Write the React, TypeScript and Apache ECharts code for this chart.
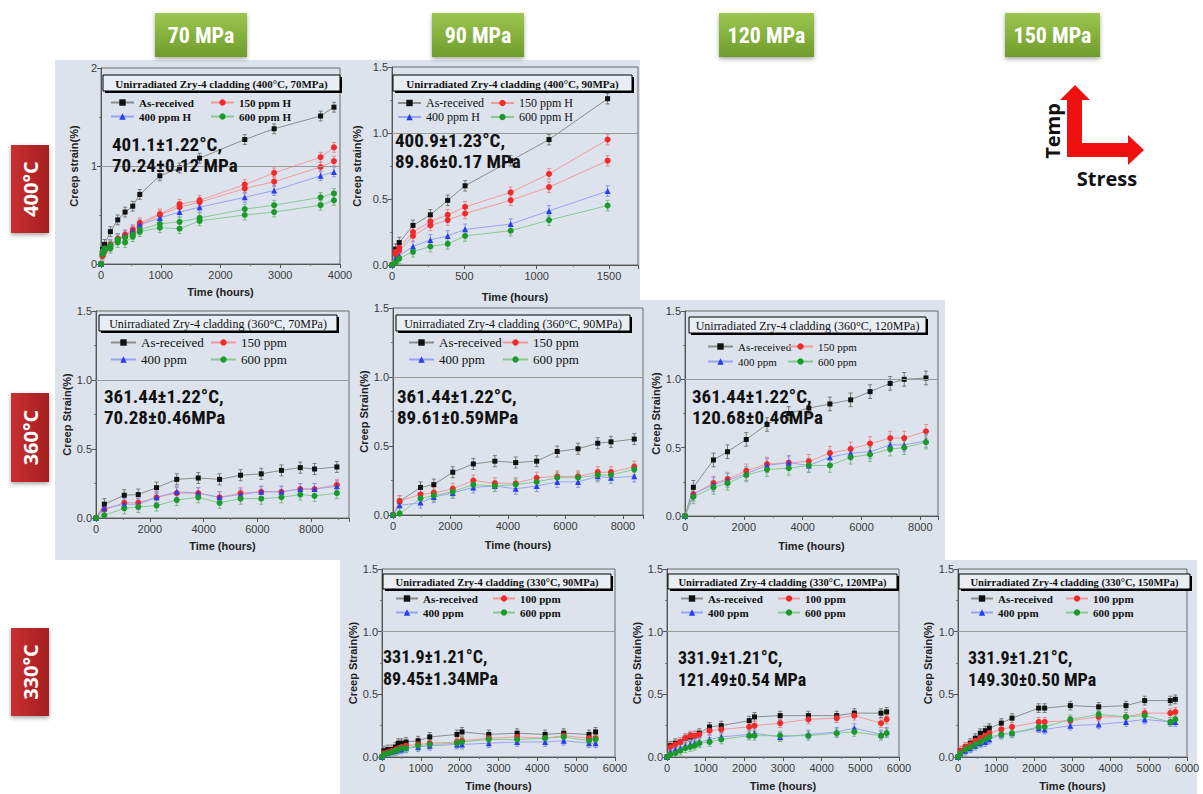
import { useEffect, useRef } from 'react';
import * as echarts from 'echarts';

// ---------------- data ----------------
const stressHeaders = ['70 MPa', '90 MPa', '120 MPa', '150 MPa'];
const tempLabels = ['400°C', '360°C', '330°C'];

const namesH = ['As-received', '150 ppm H', '400 ppm H', '600 ppm H'];
const names360 = ['As-received', '150 ppm', '400 ppm', '600 ppm'];
const names330 = ['As-received', '100 ppm', '400 ppm', '600 ppm'];

// approximate half-height of the error bars (% strain)
const errorHalfWidth = [0.05, 0.04, 0.04, 0.04, 0.05, 0.035, 0.035, 0.035];

// 400°C, 70 MPa
const p1Time = [0, 25, 60, 157, 280, 403, 531, 649, 985, 1315, 1650, 2406, 2898, 3675, 3899];
const p1AsReceived = [0, 0.15, 0.2, 0.33, 0.45, 0.53, 0.59, 0.71, 0.9, 0.98, 1.08, 1.27, 1.38, 1.51, 1.6];
const p1H150a = [0, 0.1, 0.15, 0.2, 0.26, 0.3, 0.35, 0.42, 0.51, 0.61, 0.65, 0.81, 0.93, 1.09, 1.19];
const p1H150b = [0, 0.08, 0.13, 0.18, 0.25, 0.28, 0.33, 0.4, 0.5, 0.58, 0.63, 0.77, 0.84, 0.99, 1.05];
const p1H400 = [0, 0.12, 0.16, 0.2, 0.26, 0.29, 0.34, 0.4, 0.47, 0.53, 0.58, 0.68, 0.75, 0.9, 0.94];
const p1H600a = [0, 0.13, 0.16, 0.19, 0.25, 0.27, 0.3, 0.35, 0.41, 0.43, 0.47, 0.56, 0.6, 0.68, 0.72];
const p1H600b = [0, 0.1, 0.14, 0.16, 0.22, 0.22, 0.28, 0.33, 0.37, 0.36, 0.44, 0.5, 0.53, 0.6, 0.65];

// 400°C, 90 MPa
const p2Time = [0, 25, 50, 145, 265, 385, 505, 820, 1085, 1490];
const p2AsReceived = [0, 0.12, 0.17, 0.3, 0.38, 0.49, 0.6, 0.79, 0.95, 1.26];
const p2H150a = [0, 0.1, 0.13, 0.25, 0.33, 0.38, 0.44, 0.55, 0.69, 0.95];
const p2H150b = [0, 0.08, 0.11, 0.22, 0.3, 0.34, 0.39, 0.49, 0.59, 0.79];
const p2H400 = [0, 0.05, 0.07, 0.14, 0.19, 0.22, 0.27, 0.31, 0.41, 0.56];
const p2H600 = [0, 0.02, 0.05, 0.1, 0.14, 0.16, 0.22, 0.26, 0.34, 0.45];

// 360°C, 70 MPa
const p3Time = [0, 310, 1050, 1570, 2250, 3000, 3800, 4590, 5370, 6140, 6890, 7590, 8120, 8950];
const p3AsReceived = [0, 0.1, 0.165, 0.17, 0.22, 0.28, 0.29, 0.28, 0.31, 0.32, 0.345, 0.365, 0.355, 0.37];
const p3H150 = [0, 0.06, 0.11, 0.11, 0.15, 0.18, 0.18, 0.15, 0.18, 0.19, 0.19, 0.21, 0.21, 0.24];
const p3H400 = [0, 0.07, 0.1, 0.1, 0.15, 0.19, 0.18, 0.15, 0.17, 0.19, 0.19, 0.21, 0.21, 0.23];
const p3H600 = [0, 0.02, 0.07, 0.08, 0.09, 0.13, 0.15, 0.11, 0.14, 0.14, 0.15, 0.17, 0.16, 0.18];

// 360°C, 90 MPa
const p4Time = [0, 230, 958, 1420, 2080, 2795, 3545, 4270, 5000, 5715, 6440, 7125, 7586, 8395];
const p4AsReceived = [0, 0.1, 0.2, 0.22, 0.31, 0.37, 0.39, 0.38, 0.39, 0.46, 0.48, 0.52, 0.53, 0.55];
const p4H150 = [0, 0.1, 0.15, 0.16, 0.19, 0.25, 0.23, 0.23, 0.27, 0.28, 0.28, 0.31, 0.31, 0.35];
const p4H400 = [0, 0.07, 0.09, 0.13, 0.16, 0.2, 0.21, 0.19, 0.21, 0.24, 0.24, 0.28, 0.27, 0.28];
const p4H600 = [0, 0.01, 0.12, 0.14, 0.17, 0.22, 0.21, 0.22, 0.24, 0.27, 0.27, 0.29, 0.29, 0.33];

// 360°C, 120 MPa
const p5Time = [0, 284, 967, 1445, 2082, 2787, 3527, 4209, 4926, 5631, 6291, 6974, 7452, 8191];
const p5AsReceived = [0, 0.21, 0.41, 0.47, 0.56, 0.67, 0.75, 0.79, 0.82, 0.85, 0.91, 0.97, 1.0, 1.01];
const p5H150 = [0, 0.16, 0.24, 0.27, 0.33, 0.38, 0.39, 0.4, 0.46, 0.49, 0.53, 0.57, 0.57, 0.62];
const p5H400 = [0, 0.16, 0.23, 0.26, 0.31, 0.37, 0.39, 0.37, 0.43, 0.46, 0.47, 0.52, 0.52, 0.55];
const p5H600 = [0, 0.14, 0.21, 0.24, 0.3, 0.34, 0.35, 0.37, 0.37, 0.43, 0.45, 0.49, 0.5, 0.54];

// 330°C, 90 MPa
const p6Time = [0, 50, 150, 250, 350, 420, 500, 620, 930, 1230, 1930, 2060, 2750, 3480, 4200, 4680, 5330, 5500];
const p6AsReceived = [0, 0.05, 0.06, 0.06, 0.08, 0.11, 0.11, 0.12, 0.13, 0.16, 0.18, 0.2, 0.18, 0.19, 0.18, 0.19, 0.18, 0.2];
const p6H100 = [0, 0.03, 0.04, 0.05, 0.06, 0.07, 0.08, 0.09, 0.1, 0.11, 0.12, 0.13, 0.15, 0.16, 0.15, 0.17, 0.15, 0.15];
const p6H400 = [0, 0.02, 0.03, 0.04, 0.05, 0.06, 0.06, 0.07, 0.08, 0.09, 0.1, 0.1, 0.11, 0.12, 0.12, 0.13, 0.11, 0.11];
const p6H600 = [0, 0.02, 0.03, 0.04, 0.05, 0.06, 0.07, 0.07, 0.09, 0.1, 0.11, 0.12, 0.14, 0.14, 0.15, 0.16, 0.13, 0.14];

// 330°C, 120 MPa
const p7Time = [0, 86, 215, 344, 473, 602, 714, 835, 1100, 1403, 2126, 2263, 2926, 3657, 4389, 4845, 5534, 5680];
const p7AsReceived = [0, 0.09, 0.11, 0.12, 0.15, 0.16, 0.17, 0.19, 0.24, 0.25, 0.29, 0.32, 0.33, 0.33, 0.33, 0.35, 0.35, 0.36];
const p7H100 = [0, 0.08, 0.1, 0.12, 0.15, 0.17, 0.17, 0.18, 0.21, 0.22, 0.24, 0.25, 0.27, 0.3, 0.31, 0.33, 0.27, 0.3];
const p7H400 = [0, 0.04, 0.06, 0.07, 0.09, 0.1, 0.11, 0.12, 0.14, 0.16, 0.18, 0.19, 0.16, 0.18, 0.2, 0.23, 0.18, 0.2];
const p7H600 = [0, 0.02, 0.03, 0.05, 0.07, 0.08, 0.09, 0.11, 0.12, 0.14, 0.17, 0.17, 0.17, 0.17, 0.19, 0.2, 0.17, 0.19];

// 330°C, 150 MPa
const p8Time = [0, 61, 192, 323, 454, 585, 716, 820, 1135, 1415, 2113, 2270, 2943, 3686, 4402, 4891, 5563, 5694];
const p8AsReceived = [0, 0.05, 0.08, 0.11, 0.15, 0.19, 0.21, 0.23, 0.27, 0.31, 0.39, 0.39, 0.41, 0.4, 0.41, 0.45, 0.45, 0.46];
const p8H100 = [0, 0.05, 0.08, 0.1, 0.13, 0.15, 0.17, 0.19, 0.22, 0.24, 0.28, 0.28, 0.29, 0.32, 0.32, 0.35, 0.35, 0.36];
const p8H400 = [0, 0.03, 0.05, 0.07, 0.09, 0.11, 0.12, 0.14, 0.18, 0.19, 0.23, 0.22, 0.25, 0.26, 0.28, 0.3, 0.28, 0.28];
const p8H600 = [0, 0.03, 0.06, 0.08, 0.1, 0.12, 0.14, 0.16, 0.18, 0.19, 0.24, 0.24, 0.3, 0.34, 0.32, 0.33, 0.28, 0.3];

// ---------------- styling / layout ----------------
const BG = '#dce3ed';
const KIND = [
  { color: '#111111', line: '#8c8c8c', err: '#7a7a7a', symbol: 'rect', size: 5 },
  { color: '#f22a2a', line: '#f29a9a', err: '#e88a8a', symbol: 'circle', size: 6 },
  { color: '#2a3cf0', line: '#9aa2f2', err: '#8a94ea', symbol: 'triangle', size: 6 },
  { color: '#1a9a2a', line: '#88c892', err: '#7abb84', symbol: 'circle', size: 6 },
];

type S = { name: string; kind: number; values: number[] };
type Panel = {
  grid: number[]; xMax: number; xInt: number; xNameGap: number;
  yMax: number; yInt: number; yDec: number; yName: string; yNameGap: number;
  title: string; titleBox: number[]; titleBold: boolean; titleSize: number;
  legendX: number[]; legendTop: number; legendSize: number; legendBold: boolean; legendGap: number; iconW: number;
  names: string[];
  note: string; noteX: number; noteTop: number; noteLH: number; noteSize: number;
  times: number[]; series: S[];
};

const panels: Panel[] = [
  {
    grid: [101, 68, 340, 264], xMax: 4000, xInt: 1000, xNameGap: 22, yMax: 2, yInt: 1, yDec: 0,
    yName: 'Creep strain(%)', yNameGap: 22,
    title: 'Unirradiated Zry-4 cladding (400°C, 70MPa)', titleBox: [103, 75, 340, 91], titleBold: true, titleSize: 11,
    legendX: [110, 210], legendTop: 97, legendSize: 11, legendBold: true, legendGap: 3, iconW: 23, names: namesH,
    note: '401.1±1.22°C,\n70.24±0.12 MPa', noteX: 112, noteTop: 134, noteLH: 21, noteSize: 19,
    times: p1Time,
    series: [
      { name: namesH[0], kind: 0, values: p1AsReceived },
      { name: namesH[1], kind: 1, values: p1H150a },
      { name: namesH[1], kind: 1, values: p1H150b },
      { name: namesH[2], kind: 2, values: p1H400 },
      { name: namesH[3], kind: 3, values: p1H600a },
      { name: namesH[3], kind: 3, values: p1H600b },
    ],
  },
  {
    grid: [392, 67, 638, 265], xMax: 1700, xInt: 500, xNameGap: 26, yMax: 1.5, yInt: 0.5, yDec: 1,
    yName: 'Creep strain(%)', yNameGap: 30,
    title: 'Unirradiated Zry-4 cladding (400°C, 90MPa)', titleBox: [393, 75, 632, 91], titleBold: true, titleSize: 11,
    legendX: [397, 490], legendTop: 97, legendSize: 12, legendBold: false, legendGap: 2, iconW: 23, names: namesH,
    note: '400.9±1.23°C,\n89.86±0.17 MPa', noteX: 395, noteTop: 130, noteLH: 21, noteSize: 19,
    times: p2Time,
    series: [
      { name: namesH[0], kind: 0, values: p2AsReceived },
      { name: namesH[1], kind: 1, values: p2H150a },
      { name: namesH[1], kind: 1, values: p2H150b },
      { name: namesH[2], kind: 2, values: p2H400 },
      { name: namesH[3], kind: 3, values: p2H600 },
    ],
  },
  {
    grid: [96, 311, 349, 518], xMax: 9400, xInt: 2000, xNameGap: 22, yMax: 1.5, yInt: 0.5, yDec: 1,
    yName: 'Creep Strain(%)', yNameGap: 22,
    title: 'Unirradiated Zry-4 cladding (360°C, 70MPa)', titleBox: [99, 315, 337, 331], titleBold: false, titleSize: 12,
    legendX: [110, 210], legendTop: 336, legendSize: 13, legendBold: false, legendGap: 4, iconW: 25, names: names360,
    note: '361.44±1.22°C,\n70.28±0.46MPa', noteX: 104, noteTop: 386, noteLH: 21, noteSize: 19,
    times: p3Time,
    series: [
      { name: names360[0], kind: 0, values: p3AsReceived },
      { name: names360[1], kind: 1, values: p3H150 },
      { name: names360[2], kind: 2, values: p3H400 },
      { name: names360[3], kind: 3, values: p3H600 },
    ],
  },
  {
    grid: [393, 308, 643, 515], xMax: 8700, xInt: 2000, xNameGap: 24, yMax: 1.5, yInt: 0.5, yDec: 1,
    yName: 'Creep Strain(%)', yNameGap: 24,
    title: 'Unirradiated Zry-4 cladding (360°C, 90MPa)', titleBox: [396, 315, 630, 331], titleBold: false, titleSize: 12,
    legendX: [408, 502], legendTop: 336, legendSize: 13, legendBold: false, legendGap: 4, iconW: 25, names: names360,
    note: '361.44±1.22°C,\n89.61±0.59MPa', noteX: 397, noteTop: 386, noteLH: 21, noteSize: 19,
    times: p4Time,
    series: [
      { name: names360[0], kind: 0, values: p4AsReceived },
      { name: names360[1], kind: 1, values: p4H150 },
      { name: names360[2], kind: 2, values: p4H400 },
      { name: names360[3], kind: 3, values: p4H600 },
    ],
  },
  {
    grid: [685, 311, 938, 516], xMax: 8600, xInt: 2000, xNameGap: 24, yMax: 1.5, yInt: 0.5, yDec: 1,
    yName: 'Creep Strain(%)', yNameGap: 24,
    title: 'Unirradiated Zry-4 cladding (360°C, 120MPa)', titleBox: [689, 317, 926, 333], titleBold: false, titleSize: 12,
    legendX: [707, 787], legendTop: 341, legendSize: 11, legendBold: false, legendGap: 4, iconW: 25, names: names360,
    note: '361.44±1.22°C,\n120.68±0.46MPa', noteX: 692, noteTop: 386, noteLH: 21, noteSize: 19,
    times: p5Time,
    series: [
      { name: names360[0], kind: 0, values: p5AsReceived },
      { name: names360[1], kind: 1, values: p5H150 },
      { name: names360[2], kind: 2, values: p5H400 },
      { name: names360[3], kind: 3, values: p5H600 },
    ],
  },
  {
    grid: [382, 569, 615, 757], xMax: 6000, xInt: 1000, xNameGap: 23, yMax: 1.5, yInt: 0.5, yDec: 1,
    yName: 'Creep Strain(%)', yNameGap: 24,
    title: 'Unirradiated Zry-4 cladding (330°C, 90MPa)', titleBox: [383, 574, 611, 589], titleBold: true, titleSize: 10.5,
    legendX: [395, 492], legendTop: 593, legendSize: 11, legendBold: true, legendGap: 3, iconW: 22, names: names330,
    note: '331.9±1.21°C,\n89.45±1.34MPa', noteX: 383, noteTop: 645, noteLH: 22, noteSize: 18,
    times: p6Time,
    series: [
      { name: names330[0], kind: 0, values: p6AsReceived },
      { name: names330[1], kind: 1, values: p6H100 },
      { name: names330[2], kind: 2, values: p6H400 },
      { name: names330[3], kind: 3, values: p6H600 },
    ],
  },
  {
    grid: [667, 569, 899, 757], xMax: 6000, xInt: 1000, xNameGap: 23, yMax: 1.5, yInt: 0.5, yDec: 1,
    yName: 'Creep Strain(%)', yNameGap: 25,
    title: 'Unirradiated Zry-4 cladding (330°C, 120MPa)', titleBox: [668, 574, 897, 589], titleBold: true, titleSize: 10.5,
    legendX: [680, 777], legendTop: 593, legendSize: 11, legendBold: true, legendGap: 3, iconW: 22, names: names330,
    note: '331.9±1.21°C,\n121.49±0.54 MPa', noteX: 678, noteTop: 646, noteLH: 22, noteSize: 18,
    times: p7Time,
    series: [
      { name: names330[0], kind: 0, values: p7AsReceived },
      { name: names330[1], kind: 1, values: p7H100 },
      { name: names330[2], kind: 2, values: p7H400 },
      { name: names330[3], kind: 3, values: p7H600 },
    ],
  },
  {
    grid: [958, 569, 1187, 757], xMax: 6000, xInt: 1000, xNameGap: 23, yMax: 1.5, yInt: 0.5, yDec: 1,
    yName: 'Creep Strain(%)', yNameGap: 25,
    title: 'Unirradiated Zry-4 cladding (330°C, 150MPa)', titleBox: [959, 574, 1190, 589], titleBold: true, titleSize: 10.5,
    legendX: [970, 1065], legendTop: 593, legendSize: 11, legendBold: true, legendGap: 3, iconW: 22, names: names330,
    note: '331.9±1.21°C,\n149.30±0.50 MPa', noteX: 968, noteTop: 646, noteLH: 22, noteSize: 18,
    times: p8Time,
    series: [
      { name: names330[0], kind: 0, values: p8AsReceived },
      { name: names330[1], kind: 1, values: p8H100 },
      { name: names330[2], kind: 2, values: p8H400 },
      { name: names330[3], kind: 3, values: p8H600 },
    ],
  },
];

const headerBoxes = [
  [155, 13, 92, 44],
  [432, 13, 92, 44],
  [719, 13, 95, 44],
  [1005, 13, 95, 44],
];
const tempBoxes = [
  [11, 145, 38, 88],
  [11, 393, 38, 89],
  [11, 628, 38, 88],
];

const SANS = "'Liberation Sans', Arial, sans-serif";
const SERIF = "'Liberation Serif', 'Times New Roman', serif";
const NOTE_FONT = "'Liberation Sans Narrow', 'Roboto Condensed', 'Noto Sans', sans-serif";
const LABEL_FONT = "'Open Sans', 'Noto Sans', sans-serif";

function buildOption() {
  const grid: any[] = [];
  const xAxis: any[] = [];
  const yAxis: any[] = [];
  const series: any[] = [];
  const legend: any[] = [];
  const elements: any[] = [];

  // background panels
  elements.push({ type: 'rect', z: -10, shape: { x: 55, y: 60, width: 585, height: 245 }, style: { fill: BG } });
  elements.push({ type: 'rect', z: -10, shape: { x: 55, y: 300, width: 890, height: 260 }, style: { fill: BG } });
  elements.push({ type: 'rect', z: -10, shape: { x: 340, y: 560, width: 857, height: 234 }, style: { fill: BG } });

  panels.forEach((p, i) => {
    const [l, t, r, b] = p.grid;
    grid.push({ left: l, top: t, width: r - l, height: b - t, show: true, borderColor: '#6a6a6a', borderWidth: 1, backgroundColor: 'rgba(0,0,0,0)' });
    xAxis.push({
      gridIndex: i, type: 'value', min: 0, max: p.xMax, interval: p.xInt,
      axisLine: { show: true, onZero: false, lineStyle: { color: '#555' } },
      axisTick: { show: true, length: 4, lineStyle: { color: '#555' } },
      minorTick: { show: true, splitNumber: 2, length: 2, lineStyle: { color: '#777' } },
      splitLine: { show: false },
      axisLabel: { fontSize: 11, color: '#3a3a3a', fontFamily: SANS, margin: 5, formatter: (v: number) => (v % p.xInt === 0 ? String(v) : '') },
      name: 'Time (hours)', nameLocation: 'middle', nameGap: p.xNameGap,
      nameTextStyle: { fontWeight: 'bold', fontSize: 11, color: '#222', fontFamily: SANS },
    });
    yAxis.push({
      gridIndex: i, type: 'value', min: 0, max: p.yMax, interval: p.yInt,
      axisLine: { show: true, onZero: false, lineStyle: { color: '#555' } },
      axisTick: { show: true, length: 4, lineStyle: { color: '#555' } },
      minorTick: { show: true, splitNumber: 2, length: 2, lineStyle: { color: '#777' } },
      splitLine: { show: false },
      axisLabel: { fontSize: 11, color: '#3a3a3a', fontFamily: SANS, margin: 4, formatter: (v: number) => v.toFixed(p.yDec) },
      name: p.yName, nameLocation: 'middle', nameRotate: 90, nameGap: p.yNameGap,
      nameTextStyle: { fontWeight: 'bold', fontSize: 11, color: '#222', fontFamily: SANS },
    });
    const e = errorHalfWidth[i];
    p.series.forEach((s, j) => {
      const k = KIND[s.kind];
      // error bars
      series.push({
        type: 'custom', xAxisIndex: i, yAxisIndex: i, silent: true, clip: true, z: 2,
        data: p.times.map((tt, n) => [tt, s.values[n] - e, s.values[n] + e]),
        encode: { x: 0, y: [1, 2] },
        renderItem: (_params: any, api: any) => {
          const x = api.value(0);
          if (x === 0) return null;
          const lo = api.coord([x, api.value(1)]);
          const hi = api.coord([x, api.value(2)]);
          const st = { stroke: k.err, lineWidth: 1 };
          return {
            type: 'group',
            children: [
              { type: 'line', shape: { x1: lo[0], y1: lo[1], x2: hi[0], y2: hi[1] }, style: st },
              { type: 'line', shape: { x1: lo[0] - 2, y1: lo[1], x2: lo[0] + 2, y2: lo[1] }, style: st },
              { type: 'line', shape: { x1: hi[0] - 2, y1: hi[1], x2: hi[0] + 2, y2: hi[1] }, style: st },
            ],
          };
        },
      });
      series.push({
        type: 'line', name: s.name, xAxisIndex: i, yAxisIndex: i,
        data: p.times.map((tt, n) => [tt, s.values[n]]),
        symbol: k.symbol, symbolSize: k.size, showSymbol: true,
        itemStyle: { color: k.color },
        lineStyle: { color: k.line, width: 1 },
        z: 3,
        markLine: j === 0 ? {
          silent: true, symbol: 'none', label: { show: false },
          lineStyle: { color: '#9a9a9a', width: 1, type: 'solid' },
          data: [{ yAxis: 1 }],
        } : undefined,
      });
    });
    const textStyle = { fontFamily: SERIF, fontSize: p.legendSize, fontWeight: p.legendBold ? 'bold' : 'normal', color: '#111' };
    [[p.names[0], p.names[2]], [p.names[1], p.names[3]]].forEach((col, c) => {
      legend.push({
        orient: 'vertical', left: p.legendX[c], top: p.legendTop, padding: 0,
        itemWidth: p.iconW, itemHeight: 8, itemGap: p.legendGap,
        selectedMode: false, data: col, textStyle,
      });
    });
    // title box
    const [x1, y1, x2, y2] = p.titleBox;
    elements.push({ type: 'rect', z: 20, shape: { x: x1 + 2, y: y1 + 2, width: x2 - x1, height: y2 - y1 }, style: { fill: '#000' } });
    elements.push({ type: 'rect', z: 21, shape: { x: x1, y: y1, width: x2 - x1, height: y2 - y1 }, style: { fill: '#e9eef4', stroke: '#000', lineWidth: 1 } });
    elements.push({
      type: 'text', z: 22, x: (x1 + x2) / 2, y: (y1 + y2) / 2 + 0.5,
      style: { text: p.title, fill: '#111', fontFamily: SERIF, fontSize: p.titleSize, fontWeight: p.titleBold ? 'bold' : 'normal', align: 'center', verticalAlign: 'middle' },
    });
    // condition annotation
    elements.push({
      type: 'text', z: 25, x: p.noteX, y: p.noteTop,
      style: { text: p.note, fill: '#111', fontFamily: NOTE_FONT, fontSize: p.noteSize, fontWeight: 'bold', lineHeight: p.noteLH, align: 'left', verticalAlign: 'top' },
    });
  });

  // stress headers
  stressHeaders.forEach((h, i) => {
    const [x, y, w, hh] = headerBoxes[i];
    elements.push({
      type: 'rect', z: 5, shape: { x, y, width: w, height: hh },
      style: {
        fill: new echarts.graphic.LinearGradient(0, 0, 0, 1, [
          { offset: 0, color: '#9cc64f' }, { offset: 1, color: '#6f9c2c' },
        ]),
        shadowColor: 'rgba(0,0,0,0.35)', shadowBlur: 4, shadowOffsetY: 2,
      },
    });
    elements.push({
      type: 'text', z: 6, x: x + w / 2, y: y + hh / 2,
      style: { text: h, fill: '#ffffff', fontFamily: NOTE_FONT, fontSize: 22, fontWeight: 'bold', align: 'center', verticalAlign: 'middle' },
    });
  });

  // temperature labels
  tempLabels.forEach((tl, i) => {
    const [x, y, w, hh] = tempBoxes[i];
    elements.push({
      type: 'rect', z: 5, shape: { x, y, width: w, height: hh },
      style: {
        fill: new echarts.graphic.LinearGradient(0, 0, 1, 0, [
          { offset: 0, color: '#c9302f' }, { offset: 1, color: '#a61f22' },
        ]),
        shadowColor: 'rgba(0,0,0,0.35)', shadowBlur: 4, shadowOffsetY: 2,
      },
    });
    elements.push({
      type: 'text', z: 6, x: x + w / 2, y: y + hh / 2, rotation: Math.PI / 2,
      style: { text: tl, fill: '#ffffff', fontFamily: LABEL_FONT, fontSize: 20, fontWeight: 'bold', align: 'center', verticalAlign: 'middle' },
    });
  });

  // Temp / Stress arrow
  elements.push({
    type: 'polygon', z: 5,
    shape: {
      points: [
        [1075, 85], [1090, 100], [1082, 100], [1082, 143], [1128, 143], [1128, 135],
        [1144, 150], [1128, 165], [1128, 157], [1067, 157], [1067, 100], [1060, 100],
      ],
    },
    style: { fill: '#f01010' },
  });
  elements.push({
    type: 'text', z: 6, x: 1052, y: 131, rotation: Math.PI / 2,
    style: { text: 'Temp', fill: '#111', fontFamily: LABEL_FONT, fontSize: 20, fontWeight: 'bold', align: 'center', verticalAlign: 'middle' },
  });
  elements.push({
    type: 'text', z: 6, x: 1107, y: 178,
    style: { text: 'Stress', fill: '#111', fontFamily: LABEL_FONT, fontSize: 20, fontWeight: 'bold', align: 'center', verticalAlign: 'middle' },
  });

  return {
    animation: false,
    backgroundColor: '#ffffff',
    grid, xAxis, yAxis, series, legend,
    graphic: { elements },
  };
}

export default function App() {
  const ref = useRef<HTMLDivElement>(null);
  useEffect(() => {
    if (!ref.current) return;
    const chart = echarts.init(ref.current, undefined, { renderer: 'svg' });
    chart.setOption(buildOption() as any);
    return () => chart.dispose();
  }, []);
  return <div ref={ref} style={{ position: 'fixed', left: 0, top: 0, width: 1203, height: 794 }} />;
}
